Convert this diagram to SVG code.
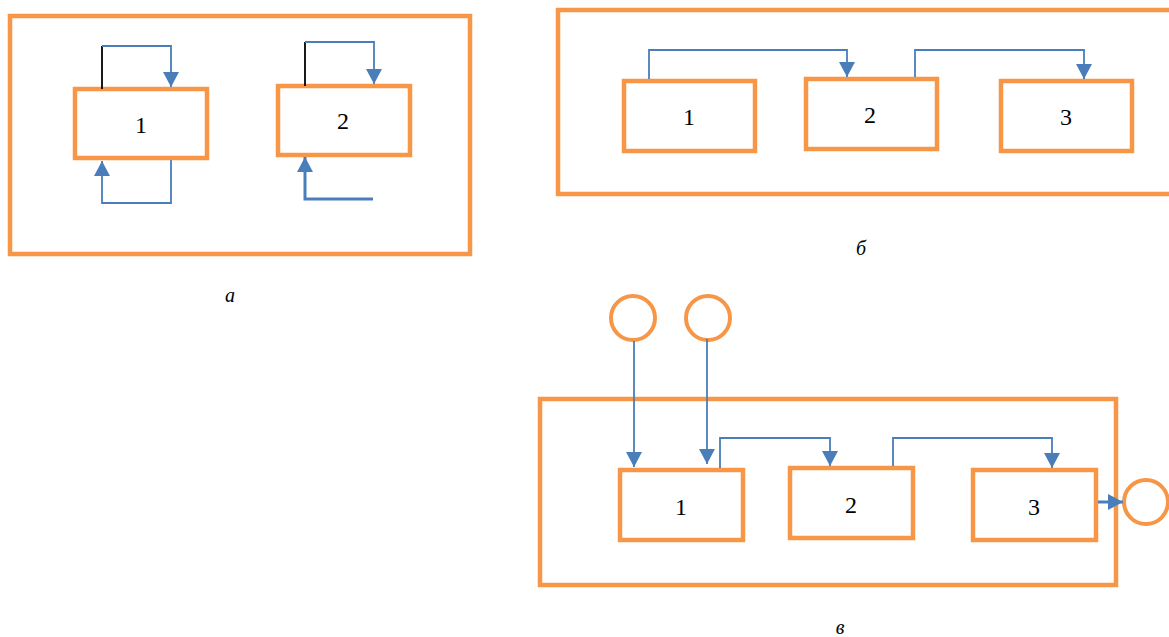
<svg xmlns="http://www.w3.org/2000/svg" width="1169" height="637" viewBox="0 0 1169 637">
  <style>
    .frame { fill: none; stroke: #F79646; stroke-width: 4.5; }
    .box { fill: #FFFFFF; stroke: #F79646; stroke-width: 4.5; }
    .port { fill: #FFFFFF; stroke: #F79646; stroke-width: 4; }
    .link { fill: none; stroke: #4A7EBB; stroke-width: 1.8; }
    .link-thick { fill: none; stroke: #4A7EBB; stroke-width: 3; }
    .stub { fill: none; stroke: #000000; stroke-width: 1.8; }
    .num { font-family: "Liberation Serif", "Times New Roman", serif; font-size: 24px; fill: #000000; text-anchor: middle; }
    .caption { font-family: "Liberation Serif", "Times New Roman", serif; font-size: 20px; font-style: italic; fill: #000000; text-anchor: middle; }
  </style>
  <defs>
    <marker id="arrow" markerUnits="userSpaceOnUse" markerWidth="16" markerHeight="16" refX="15" refY="8" orient="auto">
      <path d="M0,0 L15,8 L0,16 z" fill="#4A7EBB"/>
    </marker>
  </defs>

  <rect width="1169" height="637" fill="#FFFFFF"/>

  <!-- Panel a -->
  <g id="panel-a">
    <rect class="frame" x="10" y="16" width="460" height="238"/>
    <g id="a-node-1">
      <rect class="box" x="75" y="89" width="132" height="69"/>
      <text class="num" x="141" y="133">1</text>
    </g>
    <g id="a-node-2">
      <rect class="box" x="278" y="86" width="132" height="69"/>
      <text class="num" x="343" y="129">2</text>
    </g>
    <text class="caption" x="230" y="302">а</text>
  </g>

  <!-- Panel б -->
  <g id="panel-b">
    <rect class="frame" x="558" y="10" width="620" height="184"/>
    <g id="b-node-1">
      <rect class="box" x="624" y="81" width="131" height="70"/>
      <text class="num" x="689" y="125">1</text>
    </g>
    <g id="b-node-2">
      <rect class="box" x="806" y="79" width="131" height="70"/>
      <text class="num" x="870" y="123">2</text>
    </g>
    <g id="b-node-3">
      <rect class="box" x="1001" y="81" width="131" height="70"/>
      <text class="num" x="1066" y="125">3</text>
    </g>
    <text class="caption" x="861" y="255">б</text>
  </g>

  <!-- Panel в -->
  <g id="panel-c">
    <rect class="frame" x="540" y="399" width="576" height="186"/>
    <g id="c-node-1">
      <rect class="box" x="620" y="470" width="123" height="70"/>
      <text class="num" x="681" y="515">1</text>
    </g>
    <g id="c-node-2">
      <rect class="box" x="790" y="468" width="123" height="70"/>
      <text class="num" x="851" y="513">2</text>
    </g>
    <g id="c-node-3">
      <rect class="box" x="973" y="470" width="123" height="70"/>
      <text class="num" x="1034" y="515">3</text>
    </g>
    <g id="c-source-1">
      <ellipse class="port" cx="633" cy="318" rx="22" ry="22"/>
    </g>
    <g id="c-source-2">
      <ellipse class="port" cx="708" cy="318" rx="22" ry="22"/>
    </g>
    <g id="c-sink">
      <ellipse class="port" cx="1146" cy="502" rx="22" ry="22"/>
    </g>
    <text class="caption" x="840" y="634">в</text>
  </g>

  <!-- Connectors -->
  <g id="connectors">
    <!-- panel a: self loops -->
    <path class="stub" d="M102,89 V46"/>
    <path class="link" d="M102,46 H171 V87" marker-end="url(#arrow)"/>
    <path class="link" d="M171,160 V203 H102 V161" marker-end="url(#arrow)"/>
    <path class="stub" d="M305,86 V42"/>
    <path class="link" d="M305,42 H374 V84" marker-end="url(#arrow)"/>
    <path class="link-thick" d="M373,199 H305 V157" marker-end="url(#arrow)"/>

    <!-- panel б: chain -->
    <path class="link" d="M649,79 V50 H847 V77" marker-end="url(#arrow)"/>
    <path class="link" d="M915,77 V50 H1084 V79" marker-end="url(#arrow)"/>

    <!-- panel в: inputs, chain, output -->
    <path class="link" d="M634,341 V467" marker-end="url(#arrow)"/>
    <path class="link" d="M707,339 V464" marker-end="url(#arrow)"/>
    <path class="link" d="M720,468 V438 H830 V466" marker-end="url(#arrow)"/>
    <path class="link" d="M893,466 V438 H1052 V468" marker-end="url(#arrow)"/>
    <path class="link-thick" d="M1098,502 H1123" marker-end="url(#arrow)"/>
  </g>
</svg>
